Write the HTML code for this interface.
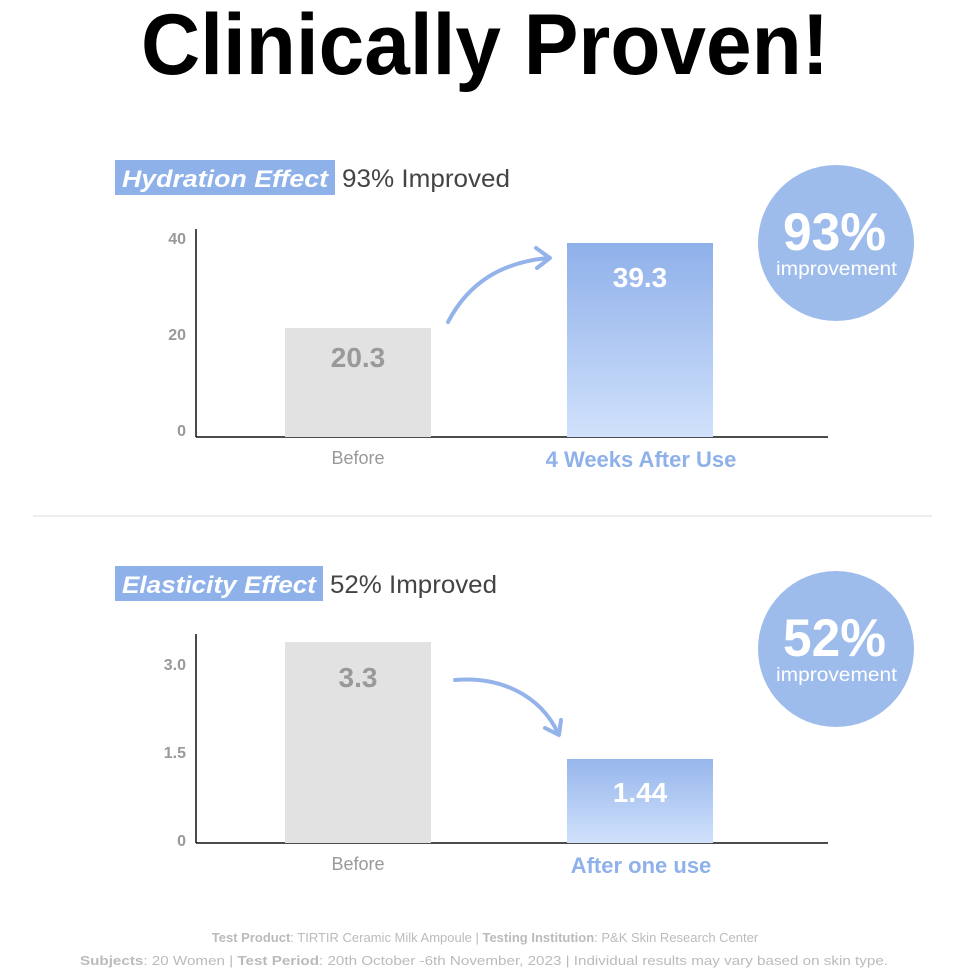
<!DOCTYPE html>
<html><head><meta charset="utf-8"><style>
html,body{margin:0;padding:0;background:#fff;}
svg{display:block;font-family:"Liberation Sans",sans-serif;}
</style></head><body>
<svg width="970" height="970" viewBox="0 0 970 970" xmlns="http://www.w3.org/2000/svg">
<defs>
<linearGradient id="g1" x1="0" y1="0" x2="0" y2="1"><stop offset="0" stop-color="#8fb0ea"/><stop offset="1" stop-color="#d0e1fb"/></linearGradient>
<linearGradient id="g2" x1="0" y1="0" x2="0" y2="1"><stop offset="0" stop-color="#97b6ec"/><stop offset="1" stop-color="#d0e1fb"/></linearGradient>
</defs>
<rect width="970" height="970" fill="#fff"/>
<text x="485" y="74" text-anchor="middle" font-size="86" font-weight="bold" fill="#000" textLength="688" lengthAdjust="spacingAndGlyphs">Clinically Proven!</text>

<!-- Chart 1 -->
<rect x="115" y="160" width="220" height="35" fill="#8fb1ea"/>
<text x="122" y="187" font-size="24" font-weight="bold" font-style="italic" fill="#fff" textLength="206" lengthAdjust="spacingAndGlyphs">Hydration Effect</text>
<text x="342" y="187" font-size="25" fill="#444" textLength="168" lengthAdjust="spacingAndGlyphs">93% Improved</text>
<line x1="196" y1="229" x2="196" y2="437" stroke="#111" stroke-width="1.5"/>
<line x1="196" y1="437" x2="828" y2="437" stroke="#111" stroke-width="1.5"/>
<g font-size="16" font-weight="bold" fill="#999" text-anchor="end">
<text x="186" y="244">40</text><text x="186" y="340">20</text><text x="186" y="436">0</text></g>
<rect x="285" y="328" width="146" height="109" fill="#e2e2e2"/>
<text x="358" y="367" text-anchor="middle" font-size="28" font-weight="bold" fill="#999">20.3</text>
<rect x="567" y="243" width="146" height="194" fill="url(#g1)"/>
<text x="640" y="287" text-anchor="middle" font-size="28" font-weight="bold" fill="#fff">39.3</text>
<path d="M448 322 C470 280 505 262 548 258" fill="none" stroke="#93b3ea" stroke-width="4" stroke-linecap="round"/>
<path d="M536 248 L550 258 L537 268" fill="none" stroke="#93b3ea" stroke-width="4" stroke-linecap="round" stroke-linejoin="round"/>
<text x="358" y="464" text-anchor="middle" font-size="18" fill="#999">Before</text>
<text x="641" y="467" text-anchor="middle" font-size="22" font-weight="bold" fill="#8fb1ea">4 Weeks After Use</text>
<circle cx="836" cy="243" r="78" fill="#9dbcec"/>
<text x="783" y="250" font-size="53" font-weight="bold" fill="#fff" textLength="103" lengthAdjust="spacingAndGlyphs">93%</text>
<text x="776" y="275" font-size="19" fill="#fff" textLength="121" lengthAdjust="spacingAndGlyphs">improvement</text>

<line x1="33" y1="516" x2="932" y2="516" stroke="#ddd" stroke-width="1"/>

<!-- Chart 2 -->
<rect x="115" y="566" width="208" height="35" fill="#8fb1ea"/>
<text x="122" y="593" font-size="24" font-weight="bold" font-style="italic" fill="#fff" textLength="194" lengthAdjust="spacingAndGlyphs">Elasticity Effect</text>
<text x="330" y="593" font-size="25" fill="#444" textLength="167" lengthAdjust="spacingAndGlyphs">52% Improved</text>
<line x1="196" y1="634" x2="196" y2="843" stroke="#111" stroke-width="1.5"/>
<line x1="196" y1="843" x2="828" y2="843" stroke="#111" stroke-width="1.5"/>
<g font-size="16" font-weight="bold" fill="#999" text-anchor="end">
<text x="186" y="670">3.0</text><text x="186" y="758">1.5</text><text x="186" y="846">0</text></g>
<rect x="285" y="642" width="146" height="201" fill="#e2e2e2"/>
<text x="358" y="687" text-anchor="middle" font-size="28" font-weight="bold" fill="#999">3.3</text>
<rect x="567" y="759" width="146" height="84" fill="url(#g2)"/>
<text x="640" y="802" text-anchor="middle" font-size="28" font-weight="bold" fill="#fff">1.44</text>
<path d="M455 680 C500 676 540 695 558 733" fill="none" stroke="#93b3ea" stroke-width="4" stroke-linecap="round"/>
<path d="M545 728 L559 735 L561 720" fill="none" stroke="#93b3ea" stroke-width="4" stroke-linecap="round" stroke-linejoin="round"/>
<text x="358" y="870" text-anchor="middle" font-size="18" fill="#999">Before</text>
<text x="641" y="873" text-anchor="middle" font-size="22" font-weight="bold" fill="#8fb1ea">After one use</text>
<circle cx="836" cy="649" r="78" fill="#9dbcec"/>
<text x="783" y="656" font-size="53" font-weight="bold" fill="#fff" textLength="103" lengthAdjust="spacingAndGlyphs">52%</text>
<text x="776" y="681" font-size="19" fill="#fff" textLength="121" lengthAdjust="spacingAndGlyphs">improvement</text>

<!-- Footer -->
<text x="485" y="942" text-anchor="middle" font-size="13" fill="#bbb"><tspan font-weight="bold">Test Product</tspan>: TIRTIR Ceramic Milk Ampoule     |     <tspan font-weight="bold">Testing Institution</tspan>: P&amp;K Skin Research Center</text>
<text x="484" y="965" text-anchor="middle" font-size="13" fill="#bbb" textLength="808" lengthAdjust="spacingAndGlyphs"><tspan font-weight="bold">Subjects</tspan>: 20 Women     |     <tspan font-weight="bold">Test Period</tspan>: 20th October -6th November, 2023     |     Individual results may vary based on skin type.</text>
</svg>
</body></html>
